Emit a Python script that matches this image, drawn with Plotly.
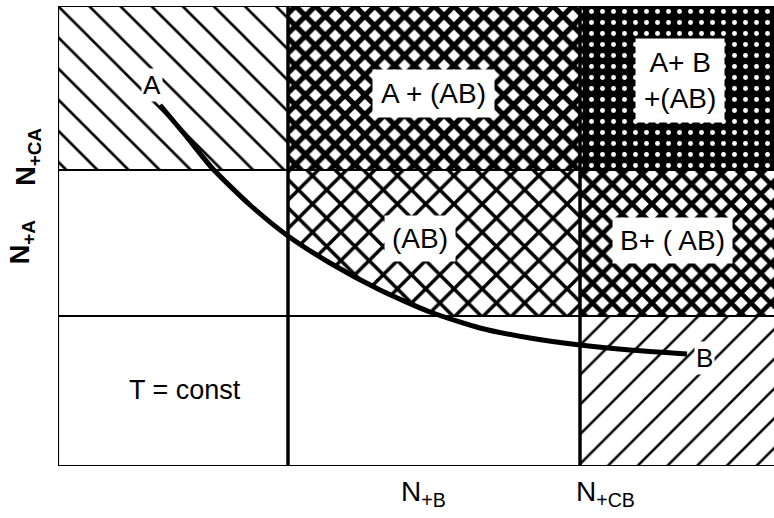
import numpy as np
import plotly.graph_objects as go

# ---- data (arbitrary concentration units) ----
x_edges = [0.0, 2.30, 5.22, 7.30]          # 0, N+B, N+CB, beyond frame
y_edges = [0.0, 1.50, 2.96, 4.60]          # 0, N+A, N+CA, top
x_tick_labels = ["N<sub>+B</sub>", "N<sub>+CB</sub>"]
y_tick_labels = ["<b>N<sub>+A</sub></b>", "<b>N<sub>+CA</sub></b>"]

curve_x = [1.02, 1.28, 1.54, 1.92, 2.30, 2.72, 3.22, 3.72, 4.22, 4.72, 5.22, 5.72, 6.29]
curve_y = [3.61, 3.30, 2.98, 2.61, 2.30, 2.03, 1.76, 1.54, 1.38, 1.28, 1.21, 1.16, 1.12]

region_labels = ["A + (AB)", "A+ B<br>+(AB)", "(AB)", "B+ ( AB)", "T = const"]

FONT = "Liberation Sans"
fig = go.Figure()


def cell(ix, iy):
    x0, x1 = x_edges[ix], x_edges[ix + 1]
    y0, y1 = y_edges[iy], y_edges[iy + 1]
    return [x0, x1, x1, x0, x0], [y0, y0, y1, y1, y0]


def add_fill(xs, ys, shape, size, solidity, fg="black", bg="white"):
    fig.add_trace(go.Scatter(
        x=xs, y=ys, mode="lines", fill="toself", line=dict(width=0),
        fillcolor=bg,
        fillpattern=dict(shape=shape, size=size, solidity=solidity,
                         fgcolor=fg, bgcolor=bg, fillmode="replace"),
        hoverinfo="skip", showlegend=False))


# top-left cell: "\" hatching (pure A)
xs, ys = cell(0, 2)
add_fill(xs, ys, "\\", 22, 0.12)
# bottom-right cell: "/" hatching (pure B)
xs, ys = cell(2, 0)
add_fill(xs, ys, "/", 21, 0.12)
# top-middle: dense, heavy cross hatching
xs, ys = cell(1, 2)
add_fill(xs, ys, "x", 14, 0.62)
# top-right: nearly black with white dots
xs, ys = cell(2, 2)
add_fill(xs, ys, ".", 11, 0.16, fg="white", bg="black")
# right-middle: heavy cross hatching
xs, ys = cell(2, 1)
add_fill(xs, ys, "x", 14, 0.55)

# middle cell: cross hatching above the A-B curve only
cx = np.array(curve_x)
cy = np.array(curve_y)
xl, xr = x_edges[1], x_edges[2]
yb, yt = y_edges[1], y_edges[2]
y_at_left = float(np.interp(xl, cx, cy))
x_at_bottom = float(np.interp(-yb, -cy, cx))
mask = (cx > xl) & (cx < x_at_bottom)
poly_x = [xl, xr, xr, x_at_bottom] + list(cx[mask][::-1]) + [xl, xl]
poly_y = [yt, yt, yb, yb] + list(cy[mask][::-1]) + [y_at_left, yt]
add_fill(poly_x, poly_y, "x", 20, 0.32)

# cell borders
lx, ly = [], []
for xv in x_edges[:3]:
    lx += [xv, xv, None]
    ly += [y_edges[0], y_edges[-1], None]
for yv in y_edges:
    lx += [x_edges[0], x_edges[-1], None]
    ly += [yv, yv, None]
fig.add_trace(go.Scatter(x=lx, y=ly, mode="lines", line=dict(color="black", width=2.2),
                         hoverinfo="skip", showlegend=False))
# emphasise N+B and N+CB verticals
fig.add_trace(go.Scatter(x=[x_edges[1], x_edges[1], None, x_edges[2], x_edges[2]],
                         y=[y_edges[0], y_edges[-1], None, y_edges[0], y_edges[-1]],
                         mode="lines", line=dict(color="black", width=3.4),
                         hoverinfo="skip", showlegend=False))

# A -> B path
fig.add_trace(go.Scatter(x=curve_x, y=curve_y, mode="lines",
                         line=dict(color="black", width=5, shape="spline", smoothing=0.6),
                         hoverinfo="skip", showlegend=False))

ann = []
def label(text, x, y, size=28, bg="white", pad=6, angle=0, ref="x"):
    ann.append(dict(text=text, x=x, y=y,
                    xref="x" if ref == "x" else "paper",
                    yref="y" if ref == "x" else "paper",
                    xanchor="center", yanchor="middle",
                    showarrow=False,
                    font=dict(family=FONT, size=size, color="black"),
                    bgcolor=bg, borderpad=pad, textangle=angle))

label(region_labels[0], 3.75, 3.73, pad=8)
label(region_labels[1], 6.22, 3.86, pad=8)
label(region_labels[2], 3.62, 2.28, pad=7)
label(region_labels[3], 6.14, 2.26, pad=7)
label(region_labels[4], 1.27, 0.76, size=27, bg="rgba(0,0,0,0)")
label("A", 0.94, 3.81, size=26, pad=1)
label("B", 6.46, 1.08, size=26, pad=1)
T = "rgba(0,0,0,0)"
label(x_tick_labels[0], 0.511, -0.059, size=28, bg=T, pad=1, ref="paper")
label(x_tick_labels[1], 0.764, -0.059, size=28, bg=T, pad=1, ref="paper")
label(y_tick_labels[1], -0.042, 0.672, size=27, bg=T, pad=1, angle=-90, ref="paper")
label(y_tick_labels[0], -0.050, 0.487, size=27, bg=T, pad=1, angle=-90, ref="paper")

fig.update_layout(
    width=774, height=518,
    margin=dict(l=58, r=0, t=6, b=52),
    paper_bgcolor="white", plot_bgcolor="white",
    xaxis=dict(range=[0, 7.16], showgrid=False, zeroline=False, showticklabels=False,
               ticks="", showline=False, fixedrange=True),
    yaxis=dict(range=[0, 4.60], showgrid=False, zeroline=False, showticklabels=False,
               ticks="", showline=False, fixedrange=True),
    annotations=ann,
    showlegend=False,
)

fig.write_html("out.html", config={"displayModeBar": False},
               post_script="document.body.style.margin='0';")
